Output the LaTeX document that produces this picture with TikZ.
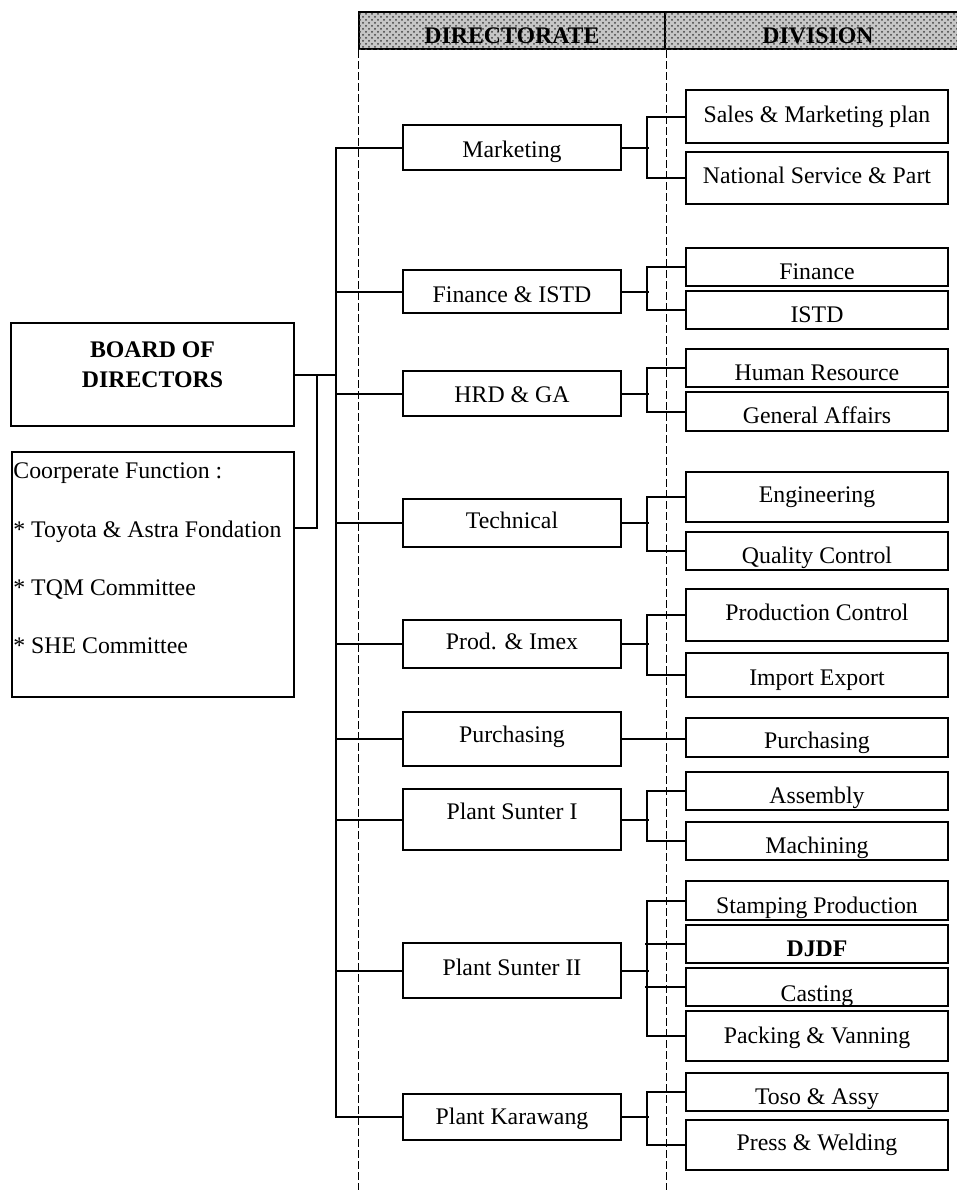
\documentclass[tikz,border=0pt]{standalone}
\usepackage{fontspec}
\setmainfont{Liberation Serif}
\usetikzlibrary{calc,patterns}

\tikzset{
  box/.style={draw, line width=1pt, inner sep=0pt, text depth=0pt},
  dir/.style={box, minimum width=109pt},
  div/.style={box, minimum width=131pt},
  sz/.style 2 args={minimum height=#1pt, text height=#2pt},
  hdr/.style={box, minimum width=153pt, minimum height=18.5pt, text height=12.5pt,
    fill=gray!45, postaction={pattern=crosshatch dots, pattern color=black!75},
    font=\fontsize{11.9}{14}\selectfont\bfseries},
  link/.style={line width=1pt},
  guide/.style={line width=0.5pt, dash pattern=on 4pt off 1.5pt}
}

\begin{document}
\begin{tikzpicture}[x=0.5pt, y=-0.5pt, font=\fontsize{11.9}{14}\selectfont]
\useasboundingbox (0,0) rectangle (957,1190);

% header
\node[hdr] (hdir) at (512,30.5) {DIRECTORATE};
\node[hdr] (hdiv) at (818,30.5) {DIVISION};
\coordinate (bot) at (0,1190);
\draw[guide] (hdir.south west) -- (hdir.south west |- bot);
\draw[guide] (hdir.south east) -- (hdir.south east |- bot);

% board
\node[box, minimum width=141.5pt, minimum height=51.5pt] (board) at (152.5,374.5) {};
\node[anchor=base, font=\fontsize{11.9}{14}\selectfont\bfseries] (bd1) at (152.5,357) {BOARD OF};
\node[anchor=base, font=\fontsize{11.9}{14}\selectfont\bfseries] (bd2) at (152.5,387) {DIRECTORS};

\node[box, minimum width=141pt, minimum height=122.5pt] (corp) at (153,574.5) {};
\node[anchor=base west, inner sep=0pt] (cf1) at (13,478) {Coorperate Function :};
\node[anchor=base west, inner sep=0pt] (cf2) at (13,537) {* Toyota \& Astra Fondation};
\node[anchor=base west, inner sep=0pt] (cf3) at (13,595) {* TQM Committee};
\node[anchor=base west, inner sep=0pt] (cf4) at (13,653) {* SHE Committee};

% directorate
\node[dir, sz={22.5}{9.5}]  (mkt) at (512,147.5) {Marketing};
\node[dir, sz={21.5}{10.5}] (fin) at (512,291.5) {Finance \& ISTD};
\node[dir, sz={22.5}{8.5}]  (hrd) at (512,393.5) {HRD \& GA};
\node[dir, sz={24}{5}]      (tec) at (512,523)   {Technical};
\node[dir, sz={24}{5}]      (pim) at (512,644)   {Prod. \& Imex};
\node[dir, sz={27}{3}]      (pur) at (512,739)   {Purchasing};
\node[dir, sz={30.5}{0}]    (ps1) at (512,819.5) {Plant Sunter I};
\node[dir, sz={27.5}{4.5}]  (ps2) at (512,970.5) {Plant Sunter II};
\node[dir, sz={23}{7}]      (pkw) at (512,1117)  {Plant Karawang};

% division
\node[div, sz={26.5}{5.5}]  (smp)  at (817,116.5)  {Sales \& Marketing plan};
\node[div, sz={26}{5}]      (nsp)  at (817,178)    {National Service \& Part};
\node[div, sz={19}{12}]     (fnc)  at (817,267)    {Finance};
\node[div, sz={19}{12}]     (istd) at (817,310)    {ISTD};
\node[div, sz={19}{12}]     (hres) at (817,368)    {Human Resource};
\node[div, sz={19.5}{11.5}] (gaf)  at (817,411.5)  {General Affairs};
\node[div, sz={25}{5}]      (eng)  at (817,497)    {Engineering};
\node[div, sz={19}{12}]     (qc)   at (817,551)    {Quality Control};
\node[div, sz={26}{5}]      (prc)  at (817,615)    {Production Control};
\node[div, sz={22}{10}]     (iex)  at (817,675)    {Import Export};
\node[div, sz={19.5}{10.5}] (purd) at (817,737.5)  {Purchasing};
\node[div, sz={19}{12}]     (asm)  at (817,791)    {Assembly};
\node[div, sz={19}{12}]     (mach) at (817,841)    {Machining};
\node[div, sz={19.5}{12.5}] (stp)  at (817,900.5)  {Stamping Production};
\node[div, sz={19}{12}, font=\fontsize{11.9}{14}\selectfont\bfseries] (djdf) at (817,944) {DJDF};
\node[div, sz={19}{14}]     (cast) at (817,987)    {Casting};
\node[div, sz={25}{7}]      (pav)  at (817,1036)   {Packing \& Vanning};
\node[div, sz={19}{12}]     (toso) at (817,1092)   {Toso \& Assy};
\node[div, sz={25}{5}]      (pwd)  at (817,1145)   {Press \& Welding};

% board to trunk
\draw[link] (mkt.west) -- ++(-66,0) coordinate (tk) |- (pkw.west);
\draw[link] (board.east) -- (board.east -| tk);
\draw[link] ($(corp.north east)!.31!(corp.south east)$) -- ++(22,0) |- (board.east);

\foreach \d in {fin,hrd,tec,pim,pur,ps1,ps2}
  \draw[link] (\d.west) -- (\d.west -| tk);

% directorate to division
\foreach \d/\a/\b in {mkt/smp/nsp, fin/fnc/istd, hrd/hres/gaf, tec/eng/qc,
                      pim/prc/iex, ps1/asm/mach, ps2/stp/pav, pkw/toso/pwd}
{
  \draw[link] (\d.east) -- ++(27,0);
  \draw[link] (\a.west) -- ++(-38,0) |- (\b.west);
}
\draw[link] (djdf.west) -- ++(-40,0);
\draw[link] (cast.west) -- ++(-40,0);
\draw[link] (pur.east) -- (pur.east -| purd.west);

\end{tikzpicture}
\end{document}
